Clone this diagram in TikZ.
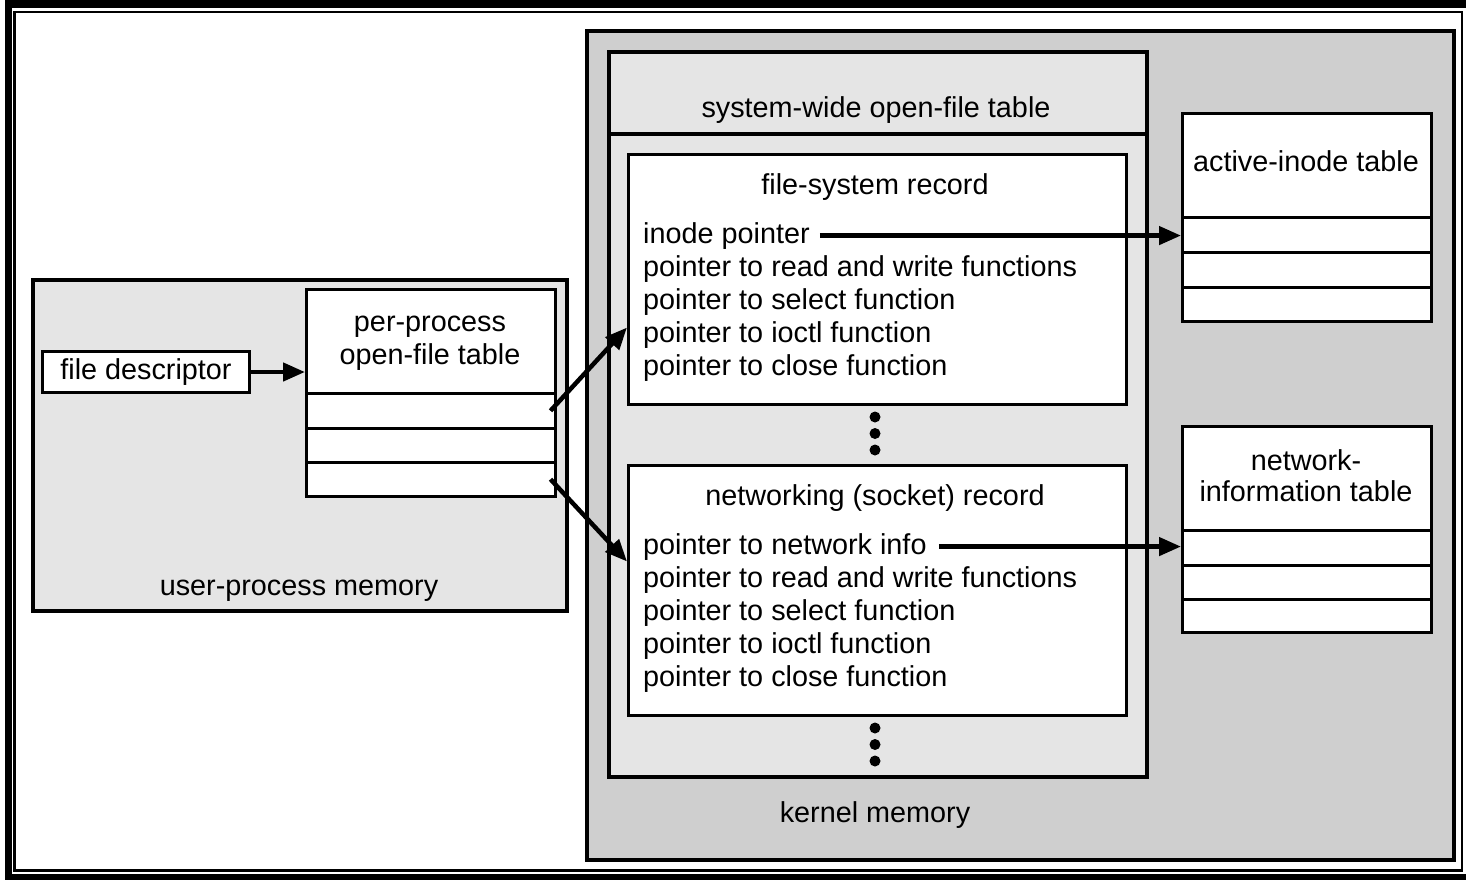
\documentclass[tikz,border=0pt]{standalone}
\usepackage{fontspec}
\setmainfont{Liberation Sans}
\usepackage{tikz}
\usetikzlibrary{arrows.meta}
\definecolor{kgray}{HTML}{CFCFCF}
\definecolor{lgray}{HTML}{E5E5E5}

\begin{document}
\begin{tikzpicture}[x=1pt,y=-1pt,>={Triangle[length=22pt,width=18pt]},
  font=\fontsize{28.8}{33}\selectfont]
  % styles
  \tikzstyle{area} = [draw=black,line width=3.5pt,inner sep=0pt,anchor=north west];
  \tikzstyle{kern} = [area,fill=kgray];
  \tikzstyle{light} = [area,fill=lgray];
  \tikzstyle{rec} = [area,line width=3pt,fill=white];
  \tikzstyle{row} = [area,line width=2.5pt,fill=white,minimum width=249pt];
  \tikzstyle{lbl} = [inner sep=0pt,anchor=base];
  \tikzstyle{item} = [inner sep=0pt,anchor=base west];
  \tikzstyle{arrow} = [->,line width=4.5pt];

  \clip (0,0) rectangle (1466,879);

  % frame
  \draw[line width=7.5pt] (8.5,4) rectangle (1490,877.5);
  \draw[line width=2.5pt] (14.5,12) rectangle (1462,870.5);

  % user-process memory
  \node[light,minimum width=534pt,minimum height=331pt] (user) at (31,278) {};
  \node[lbl] (userlabel) at (299,595) {user-process memory};
  \node[area,line width=3pt,fill=white,minimum width=207pt,minimum height=41pt] (fd) at (41,350) {file descriptor};
  \node[row,minimum height=104pt] (pphead) at (305,288) {};
  \node[row,minimum height=35pt] (pprow1) at (305,392) {};
  \node[row,minimum height=34pt] (pprow2) at (305,427) {};
  \node[row,minimum height=34pt] (pprow3) at (305,461) {};
  \node[lbl] (pplabel1) at (430,331) {per-process};
  \node[lbl] (pplabel2) at (430,364) {open-file table};

  % kernel memory
  \node[kern,minimum width=867pt,minimum height=829pt] (kernel) at (585,29) {};
  \node[lbl] (kernellabel) at (875,822) {kernel memory};
  \node[light,minimum width=538pt,minimum height=725pt] (swtable) at (607,50) {};
  \node[light,minimum width=538pt,minimum height=82pt] (swhead) at (607,50) {};
  \node[lbl] (swlabel) at (876,117) {system-wide open-file table};

  \node[rec,minimum width=498pt,minimum height=250pt] (fsrec) at (627,153) {};
  \node[lbl] (fstitle) at (875,194) {file-system record};
  \node[item] (fsinode) at (643,243) {inode pointer};
  \node[item] (fsrw) at (643,276) {pointer to read and write functions};
  \node[item] (fssel) at (643,309) {pointer to select function};
  \node[item] (fsioctl) at (643,342) {pointer to ioctl function};
  \node[item] (fsclose) at (643,375) {pointer to close function};

  \node[rec,minimum width=498pt,minimum height=250pt] (netrec) at (627,464) {};
  \node[lbl] (nettitle) at (875,505) {networking (socket) record};
  \node[item] (netptr) at (643,554) {pointer to network info};
  \node[item] (netrw) at (643,587) {pointer to read and write functions};
  \node[item] (netsel) at (643,620) {pointer to select function};
  \node[item] (netioctl) at (643,653) {pointer to ioctl function};
  \node[item] (netclose) at (643,686) {pointer to close function};

  \fill (875,417) circle (5.5pt) (875,433.5) circle (5.5pt) (875,450) circle (5.5pt);
  \fill (875,728) circle (5.5pt) (875,744.5) circle (5.5pt) (875,761) circle (5.5pt);

  \node[row,line width=3pt,minimum height=104pt] (inodehead) at (1181,112) {};
  \node[row,minimum height=35pt] (inode1) at (1181,216) {};
  \node[row,minimum height=35pt] (inode2) at (1181,251) {};
  \node[row,minimum height=34pt] (inode3) at (1181,286) {};
  \node[lbl] (inodelabel) at (1306,171) {active-inode table};

  \node[row,line width=3pt,minimum height=104pt] (netinfohead) at (1181,425) {};
  \node[row,minimum height=35pt] (netinfo1) at (1181,529) {};
  \node[row,minimum height=34pt] (netinfo2) at (1181,564) {};
  \node[row,minimum height=33pt] (netinfo3) at (1181,598) {};
  \node[lbl] (netinfolabel1) at (1306,470) {network-};
  \node[lbl] (netinfolabel2) at (1306,501) {information table};

  % edges
  \draw[arrow] (fd.east) -- (fd.east -| pphead.west);
  \draw[arrow] ([xshift=-6pt]pprow1.east) -- ([yshift=-48pt]fsrec.west);
  \draw[arrow] ([xshift=-6pt]pprow3.east) -- ([yshift=29pt]netrec.west);
  \draw[arrow] ([xshift=10pt]fsinode.east) -- (fsinode.east -| inode1.west);
  \draw[arrow] ([xshift=12pt]netptr.east) -- (netptr.east -| netinfo1.west);
\end{tikzpicture}
\end{document}
